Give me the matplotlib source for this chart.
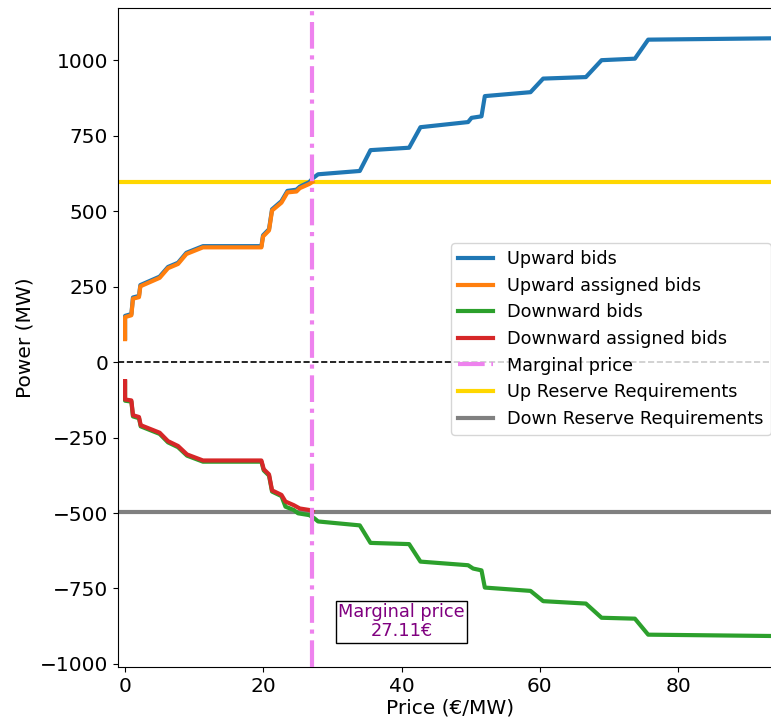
import matplotlib
matplotlib.use("Agg")
import matplotlib.pyplot as plt

# ---- data ----
up_price = [0, 0, 0.91, 1.14, 2.01, 2.21, 5.0, 6.21, 7.66, 8.87, 11.27, 19.72, 19.96, 20.82,
            21.26, 22.62, 23.49, 24.79, 25.27, 26.65, 27.11, 27.92, 33.95, 35.5, 41.09,
            42.73, 49.62, 50.12, 51.56, 52.04, 58.65, 60.48, 66.66, 68.93, 73.75, 75.67, 96.0]
up_power = [80, 153, 159, 214, 219, 255, 283, 315, 329, 362, 384, 384, 420, 440,
            506, 533, 567, 571, 581, 596, 608, 622, 633, 702, 710,
            778, 795, 809, 814, 881, 894, 939, 944, 1000, 1005, 1068, 1073]

up_assigned_price = [0, 0, 0.91, 1.14, 2.01, 2.21, 5.0, 6.21, 7.66, 8.87, 11.27, 19.72, 19.96,
                     20.82, 21.26, 22.62, 23.49, 24.79, 25.27, 26.65, 27.11]
up_assigned_power = [76, 149, 155, 210, 215, 251, 279, 311, 325, 358, 380, 380, 416,
                     436, 502, 528, 562, 565, 576, 590, 597]

down_price = [0, 0, 0.91, 1.14, 2.01, 2.26, 5.0, 6.21, 7.66, 8.96, 11.27, 19.72, 20.06, 20.82,
              21.26, 22.62, 23.2, 24.4, 25.02, 26.65, 27.4, 27.92, 33.95, 35.5, 41.09,
              42.73, 49.62, 50.35, 51.56, 52.04, 58.65, 60.48, 66.66, 68.93, 73.75, 75.67, 96.0]
down_power = [-67, -128, -131, -180, -186, -213, -238, -266, -282, -310, -330, -330, -359, -376,
              -429, -444, -479, -490, -501, -507, -518, -528, -541, -599, -603,
              -661, -673, -684, -690, -747, -758, -792, -800, -847, -850, -903, -908]

down_assigned_price = [0, 0, 0.91, 1.14, 2.01, 2.26, 5.0, 6.21, 7.66, 8.96, 11.27, 19.72, 20.06,
                       20.82, 21.26, 22.62, 23.2, 24.4, 25.27, 26.65, 27.11]
down_assigned_power = [-63, -124, -127, -176, -182, -209, -234, -262, -278, -306, -326, -326, -355,
                       -372, -425, -440, -462, -474, -485, -490, -495]

marginal_price = 27.11
up_requirement = 597
down_requirement = -496

fig = plt.figure(figsize=(7.71, 7.23), dpi=100)
ax = fig.add_axes([0.153, 0.0775, 1.014 - 0.153, 0.989 - 0.0775])

ax.plot(up_price, up_power, color="#1f77b4", lw=3, label="Upward bids", zorder=3)
ax.plot(up_assigned_price, up_assigned_power, color="#ff7f0e", lw=3, label="Upward assigned bids", zorder=4)
ax.plot(down_price, down_power, color="#2ca02c", lw=3, label="Downward bids", zorder=3)
ax.plot(down_assigned_price, down_assigned_power, color="#d62728", lw=3, label="Downward assigned bids", zorder=4)
ax.axhline(0, color="black", ls="--", lw=1.2, zorder=2)
ax.axvline(marginal_price, color="violet", ls="-.", lw=3, label="Marginal price", zorder=5)
ax.axhline(up_requirement, color="gold", lw=3, label="Up Reserve Requirements", zorder=2)
ax.axhline(down_requirement, color="gray", lw=3, label="Down Reserve Requirements", zorder=2)

ax.text(40.0, -860, f"Marginal price\n{marginal_price:.2f}€", ha="center", va="center",
        color="purple", fontsize=12.8, linespacing=1.1,
        bbox=dict(boxstyle="square,pad=0.12", facecolor="white", edgecolor="black"), zorder=6)

ax.set_xlim(-1.03, 95.0)
ax.set_ylim(-1010, 1173)
ax.set_xticks([0, 20, 40, 60, 80])
ax.set_yticks([-1000, -750, -500, -250, 0, 250, 500, 750, 1000])
ax.tick_params(labelsize=14.5)
ax.set_xlabel("Price (€/MW)", fontsize=14.5, labelpad=2)
ax.set_ylabel("Power (MW)", fontsize=14.5)
ax.spines["right"].set_visible(False)

ax.legend(loc="upper left", bbox_to_anchor=(451 / 771, 1 - 243 / 723),
          bbox_transform=fig.transFigure, borderaxespad=0, fontsize=12.7,
          labelspacing=0.49)

fig.savefig("out.png", dpi=100)
